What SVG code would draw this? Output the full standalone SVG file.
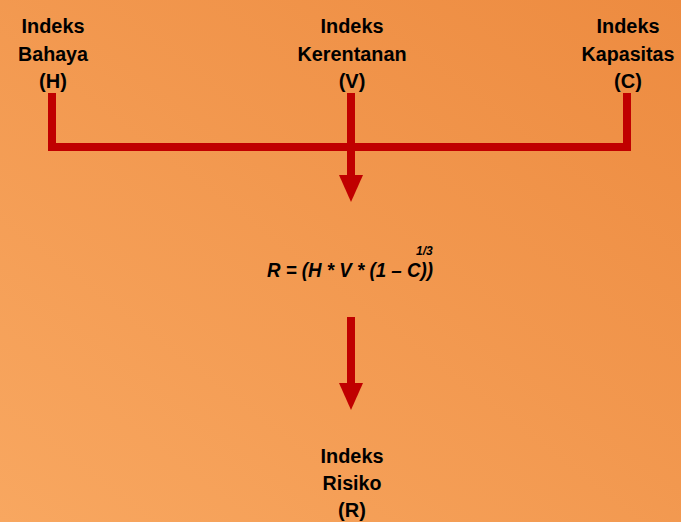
<svg xmlns="http://www.w3.org/2000/svg" width="681" height="522" viewBox="0 0 681 522">
<defs>
<linearGradient id="bg" x1="1" y1="0" x2="0" y2="1">
<stop offset="0" stop-color="#ED8B40"/>
<stop offset="1" stop-color="#F8A760"/>
</linearGradient>
<style>
.t{font-family:"Liberation Sans",Arial,sans-serif;font-weight:bold;font-size:20px;fill:#000;text-anchor:middle}
.f{font-family:"Liberation Sans",Arial,sans-serif;font-weight:bold;font-style:italic;fill:#000}
.ln{fill:none;stroke:#C00000;stroke-width:8;stroke-linejoin:miter}
.ah{fill:#C00000}
</style>
</defs>
<rect width="681" height="522" fill="url(#bg)"/>
<g id="connectors">
<path class="ln" d="M52,93 V147 H627 V93"/>
<path class="ln" d="M351,93 V178"/>
<polygon class="ah" points="339,175 363,175 351,202"/>
<path class="ln" d="M351,317 V386"/>
<polygon class="ah" points="339,383 363,383 351,410"/>
</g>
<g id="node-H">
<text class="t" x="53" y="33" textLength="63" lengthAdjust="spacingAndGlyphs">Indeks</text>
<text class="t" x="53" y="61" textLength="70" lengthAdjust="spacingAndGlyphs">Bahaya</text>
<text class="t" x="53" y="88">(H)</text>
</g>
<g id="node-V">
<text class="t" x="352" y="33" textLength="63" lengthAdjust="spacingAndGlyphs">Indeks</text>
<text class="t" x="352" y="61" textLength="109" lengthAdjust="spacingAndGlyphs">Kerentanan</text>
<text class="t" x="352" y="88">(V)</text>
</g>
<g id="node-C">
<text class="t" x="628" y="33" textLength="63" lengthAdjust="spacingAndGlyphs">Indeks</text>
<text class="t" x="628" y="61" textLength="93" lengthAdjust="spacingAndGlyphs">Kapasitas</text>
<text class="t" x="628" y="88">(C)</text>
</g>
<g id="node-formula">
<text class="f" x="267" y="277" font-size="21" textLength="166" lengthAdjust="spacingAndGlyphs">R = (H * V * (1 – C))</text>
<text class="f" x="416" y="255" font-size="12">1/3</text>
</g>
<g id="node-R">
<text class="t" x="352" y="463" textLength="63" lengthAdjust="spacingAndGlyphs">Indeks</text>
<text class="t" x="352" y="490" textLength="59" lengthAdjust="spacingAndGlyphs">Risiko</text>
<text class="t" x="352" y="517">(R)</text>
</g>
</svg>
